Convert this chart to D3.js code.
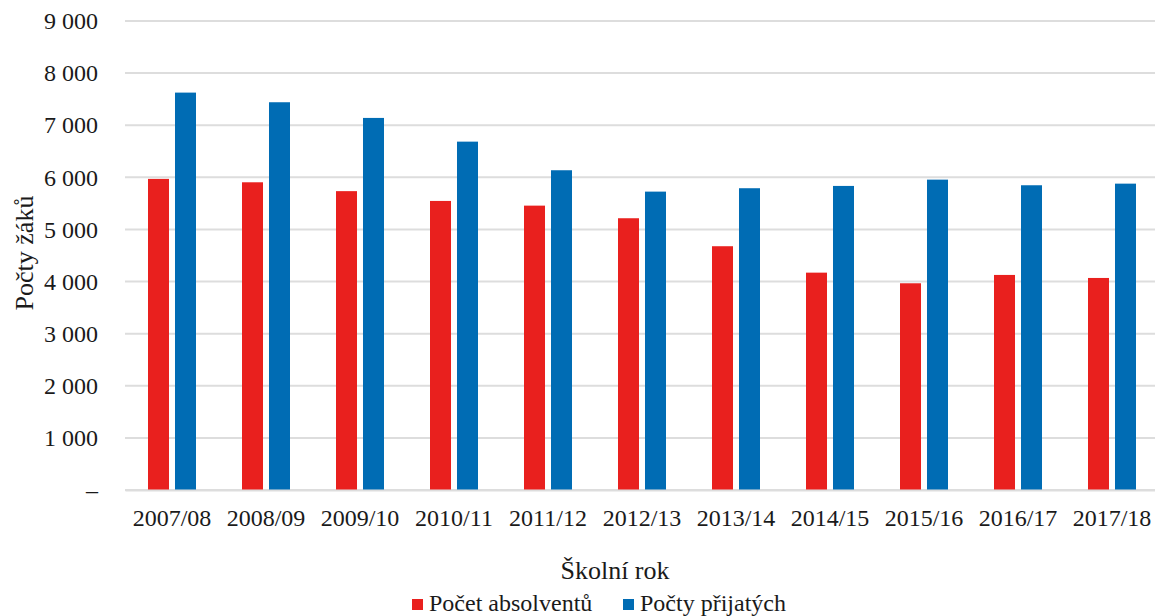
<!DOCTYPE html>
<html><head><meta charset="utf-8">
<script src="https://cdn.jsdelivr.net/npm/d3@7"></script>
<style>
body{margin:0;background:#fff;}
svg{display:block;}
svg text{font-family:"Liberation Serif","DejaVu Serif","Times New Roman",serif !important;}
</style></head><body>
<svg id="c" width="1155" height="616"></svg>
<script>
const categories = ["2007/08","2008/09","2009/10","2010/11","2011/12","2012/13","2013/14","2014/15","2015/16","2016/17","2017/18"];
const seriesNames = ["Počet absolventů","Počty přijatých"];
const absolventi = [5970, 5905, 5735, 5547, 5457, 5215, 4678, 4171, 3967, 4127, 4069];
const prijati = [7626, 7441, 7140, 6685, 6136, 5726, 5791, 5835, 5956, 5848, 5879];
const yTicks = [0,1000,2000,3000,4000,5000,6000,7000,8000,9000];
const colors = ["#E9201E","#006CB4"];

(function(){
const svg = d3.select("#c");
const pL = 125, pR = 1159, pT = 21, pB = 490;
const x = d3.scaleBand().domain(categories).range([pL, pR]).padding(0);
const xi = d3.scaleBand().domain(seriesNames).range([0, x.bandwidth()]).paddingInner(0.222).paddingOuter(0.852);
const y = d3.scaleLinear().domain([0, 9000]).range([pB, pT]);

const fmt = v => v === 0 ? "–" : d3.format(",")(v).replace(/,/g, " ");
const txt = "#1a1a1a";

// gridlines
svg.append("g").selectAll("line").data(yTicks).join("line")
  .attr("x1", pL).attr("x2", pR)
  .attr("y1", d => y(d)).attr("y2", d => y(d))
  .attr("stroke", "#DDDDDD").attr("stroke-width", 2);

// y tick labels via axis
const yAxis = svg.append("g").attr("transform", `translate(${pL},0)`)
  .call(d3.axisLeft(y).tickValues(yTicks).tickFormat(fmt).tickSize(0).tickPadding(27));
yAxis.attr("font-family", null).attr("font-size", null);
yAxis.select(".domain").remove();
yAxis.selectAll("text").attr("font-size", 24).attr("fill", txt);

// bars
const data = categories.map((c, i) => ({c, vals: [absolventi[i], prijati[i]]}));
const g = svg.append("g").selectAll("g").data(data).join("g")
  .attr("transform", d => `translate(${x(d.c)},0)`);
g.selectAll("rect").data(d => d.vals.map((v, k) => ({k, v}))).join("rect")
  .attr("x", d => xi(seriesNames[d.k]))
  .attr("width", xi.bandwidth())
  .attr("y", d => y(d.v))
  .attr("height", d => y(0) - y(d.v))
  .attr("fill", d => colors[d.k]);

// x axis
const xAxis = svg.append("g").attr("transform", `translate(0,${pB})`)
  .call(d3.axisBottom(x).tickSize(0).tickPadding(19));
xAxis.attr("font-family", null).attr("font-size", null);
xAxis.select(".domain").attr("stroke", "#DDDDDD").attr("stroke-width", 2);
xAxis.selectAll("text").attr("font-size", 24).attr("fill", txt);

// axis titles
svg.append("text").attr("x", 615).attr("y", 579).attr("text-anchor", "middle")
  .attr("font-size", 26).attr("fill", txt).text("Školní rok");
svg.append("text").attr("transform", "translate(33,253) rotate(-90)").attr("text-anchor", "middle")
  .attr("font-size", 26).attr("fill", txt).text("Počty žáků");

// legend
const legX = [412, 623];
const lg = svg.append("g").selectAll("g").data(seriesNames).join("g")
  .attr("transform", (d, i) => `translate(${legX[i]},0)`);
lg.append("rect").attr("x", 0).attr("y", 599).attr("width", 11).attr("height", 11)
  .attr("fill", (d, i) => colors[i]);
lg.append("text").attr("x", 17).attr("y", 611).attr("font-size", 24)
  .attr("fill", txt).text(d => d);
})();
</script>
</body></html>
